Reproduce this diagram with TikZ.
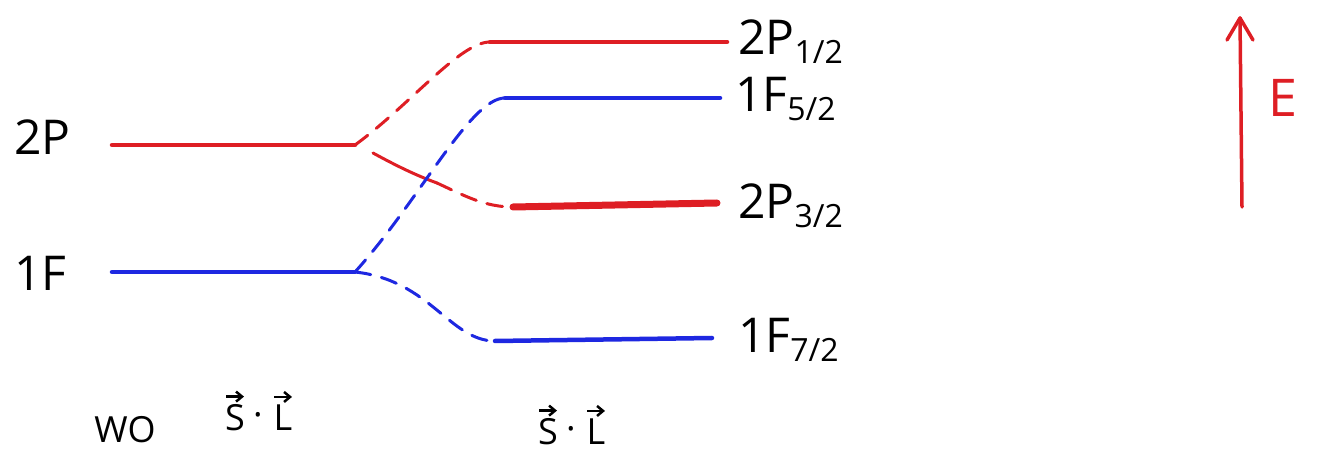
\documentclass[tikz,border=0pt]{standalone}
\usepackage{fontspec}
\setmainfont{Open Sans}
\setsansfont{Open Sans}
\usetikzlibrary{arrows.meta}
\definecolor{lred}{RGB}{222,30,36}
\definecolor{lblue}{RGB}{30,40,225}
\newcommand{\subl}[1]{\raisebox{-9pt}{\fontsize{32}{32}\selectfont #1}}
\tikzset{
  lvl/.style={line width=4.5pt, line cap=round},
  conn/.style={line width=3pt, line cap=round, dash pattern=on 16pt off 11pt},
  lbl/.style={font=\fontsize{48}{48}\selectfont, anchor=west, inner sep=0pt},
  bot/.style={font=\fontsize{36}{36}\selectfont, inner sep=0pt},
  vecarrow/.style={line width=2.5pt, -{Straight Barb[length=6pt,width=10pt]}},
}
\begin{document}
\begin{tikzpicture}[x=1pt,y=-1pt]
\useasboundingbox (0,0) rectangle (1326,462);
% coordinates of the level ends
\coordinate (pL) at (112,145); \coordinate (pR) at (355,145);
\coordinate (fL) at (112,272); \coordinate (fR) at (355,272);
\coordinate (p12L) at (490,42); \coordinate (p12R) at (727,42);
\coordinate (f52L) at (505,98); \coordinate (f52R) at (720,98);
\coordinate (p32L) at (513,207); \coordinate (p32R) at (717,203);
\coordinate (f72L) at (495,341); \coordinate (f72R) at (712,338);
\coordinate (pmid) at (437,183);
% levels
\draw[lvl, lred] (pL) -- (pR);
\draw[lvl, lblue] (fL) -- (fR);
\draw[lvl, lred] (p12L) -- (p12R);
\draw[lvl, lblue] (f52L) -- (f52R);
\draw[lvl, lred, line width=7pt] (p32L) -- (p32R);
\draw[lvl, lblue] (f72L) -- (f72R);
% connectors
\draw[conn, lred] (pR) .. controls (410,105) and (460,42) .. (p12L);
\draw[line width=3pt, lred, line cap=round] ([shift={(18,8)}]pR) .. controls (395,165) and (415,175) .. (pmid);
\draw[conn, lred] (pmid) .. controls (465,196) and (485,207) .. (p32L);
\draw[conn, lblue] (fR) .. controls (420,200) and (470,98) .. (f52L);
\draw[conn, lblue] (fR) .. controls (430,280) and (450,341) .. (f72L);
% labels
\node[lbl] (l2p) at (14,137) {2P};
\node[lbl] (l1f) at (14,273) {1F};
\node[lbl] (l2p12) at (738,42) {2P\subl{1/2}};
\node[lbl] (l1f52) at (735,99) {1F\subl{5/2}};
\node[lbl] (l2p32) at (738,206) {2P\subl{3/2}};
\node[lbl] (l1f72) at (738,340) {1F\subl{7/2}};
\node[bot] (wo) at (125,430) {WO};
% S . L (without)
\node[bot] (s1) at (235,418) {S};
\node[bot] (d1) at (258,420) {·};
\node[bot] (lL1) at (283,418) {L};
\draw[vecarrow] ([shift={(-9,-8)}]s1.north) -- ([shift={(9,-8)}]s1.north);
\draw[vecarrow] ([shift={(-9,-8)}]lL1.north) -- ([shift={(9,-8)}]lL1.north);
% S . L (with)
\node[bot] (s2) at (548,432) {S};
\node[bot] (d2) at (571,434) {·};
\node[bot] (lL2) at (596,432) {L};
\draw[vecarrow] ([shift={(-9,-8)}]s2.north) -- ([shift={(9,-8)}]s2.north);
\draw[vecarrow] ([shift={(-9,-8)}]lL2.north) -- ([shift={(9,-8)}]lL2.north);
% energy arrow
\coordinate (eb) at (1242,207);
\coordinate (et) at (1240,18);
\draw[line width=3.5pt, lred, line cap=round, line join=round] (eb) -- (et);
\draw[line width=3.5pt, lred, line cap=round, line join=round] ([shift={(-13,22)}]et) -- (et) -- ([shift={(13,22)}]et);
\node[lbl, text=lred, font=\fontsize{52}{52}\selectfont] (E) at (1268,98) {E};
\end{tikzpicture}
\end{document}
